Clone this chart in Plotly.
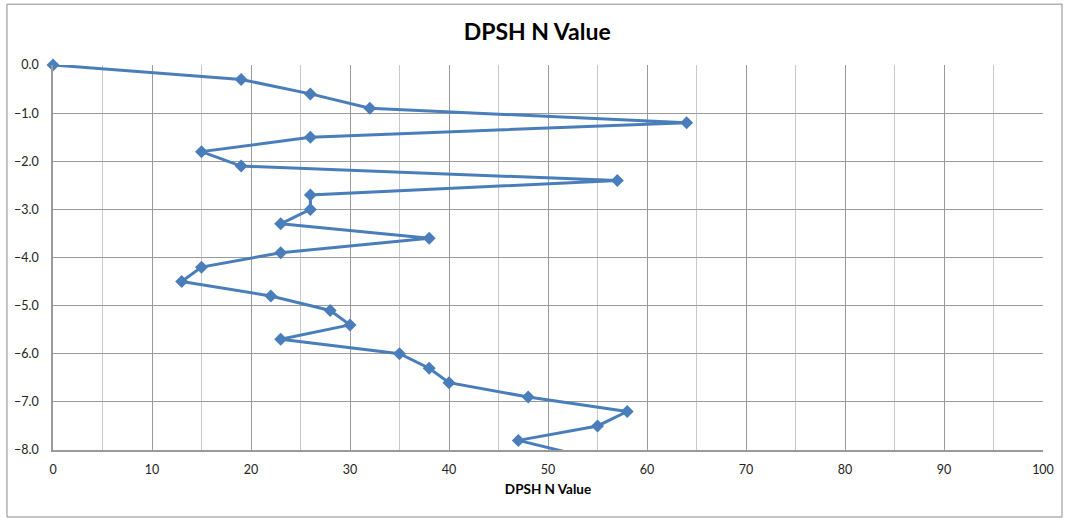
import plotly.graph_objects as go

n_value = [0, 19, 26, 32, 64, 26, 15, 19, 57, 26, 26, 23, 38, 23, 15, 13, 22, 28, 30, 23,
           35, 38, 40, 48, 58, 55, 47, 53]
depth = [0.0, -0.3, -0.6, -0.9, -1.2, -1.5, -1.8, -2.1, -2.4, -2.7, -3.0, -3.3, -3.6, -3.9,
         -4.2, -4.5, -4.8, -5.1, -5.4, -5.7, -6.0, -6.3, -6.6, -6.9, -7.2, -7.5, -7.8, -8.1]
x_range = [0, 100]
y_range = [-8, 0]
title = "DPSH N Value"
x_title = "DPSH N Value"

color = "#4a7ebb"
fig = go.Figure()
fig.add_trace(go.Scatter(x=n_value, y=depth, mode="lines",
                         line=dict(color=color, width=3), showlegend=False, hoverinfo="skip"))
vis = [(x, y) for x, y in zip(n_value, depth) if y >= y_range[0]]
fig.add_trace(go.Scatter(x=[v[0] for v in vis], y=[v[1] for v in vis], mode="markers",
                         marker=dict(symbol="diamond", size=10, color=color),
                         cliponaxis=False, showlegend=False))

fig.update_layout(
    width=1068, height=518,
    margin=dict(l=53, r=25, t=65, b=68),
    paper_bgcolor="white", plot_bgcolor="white",
    font=dict(family="Lato, Open Sans, sans-serif", size=12.5, color="#222"),
    title=dict(text="<b>" + title + "</b>", x=0.503, xanchor="center", y=0.938, yanchor="middle",
               font=dict(size=23, color="#000")),
    xaxis=dict(range=x_range, dtick=10, showgrid=True, gridcolor="#9a9a9a", gridwidth=1,
               minor=dict(dtick=5, showgrid=True, gridcolor="#c8c8c8", gridwidth=1),
               showline=True, linecolor="#9a9a9a", linewidth=1.5, zeroline=False,
               ticks="", ticklabelstandoff=7,
               title=dict(text="<b>" + x_title + "</b>", font=dict(size=13.5, color="#000"), standoff=9)),
    yaxis=dict(range=y_range, dtick=1, tickformat=".1f", showgrid=True, gridcolor="#9a9a9a",
               gridwidth=1, showline=True, linecolor="#9a9a9a", linewidth=1.5, zeroline=False,
               ticks="", ticklabelstandoff=10),
    shapes=[dict(type="rect", xref="paper", yref="paper", x0=-0.0465, x1=1.0192,
                 y0=-0.174, y1=1.158, line=dict(color="#8c8c8c", width=1), layer="below")],
)
fig.write_html("out.html", config={"displayModeBar": False},
               post_script="document.body.style.margin='0';document.body.style.overflow='hidden';")
